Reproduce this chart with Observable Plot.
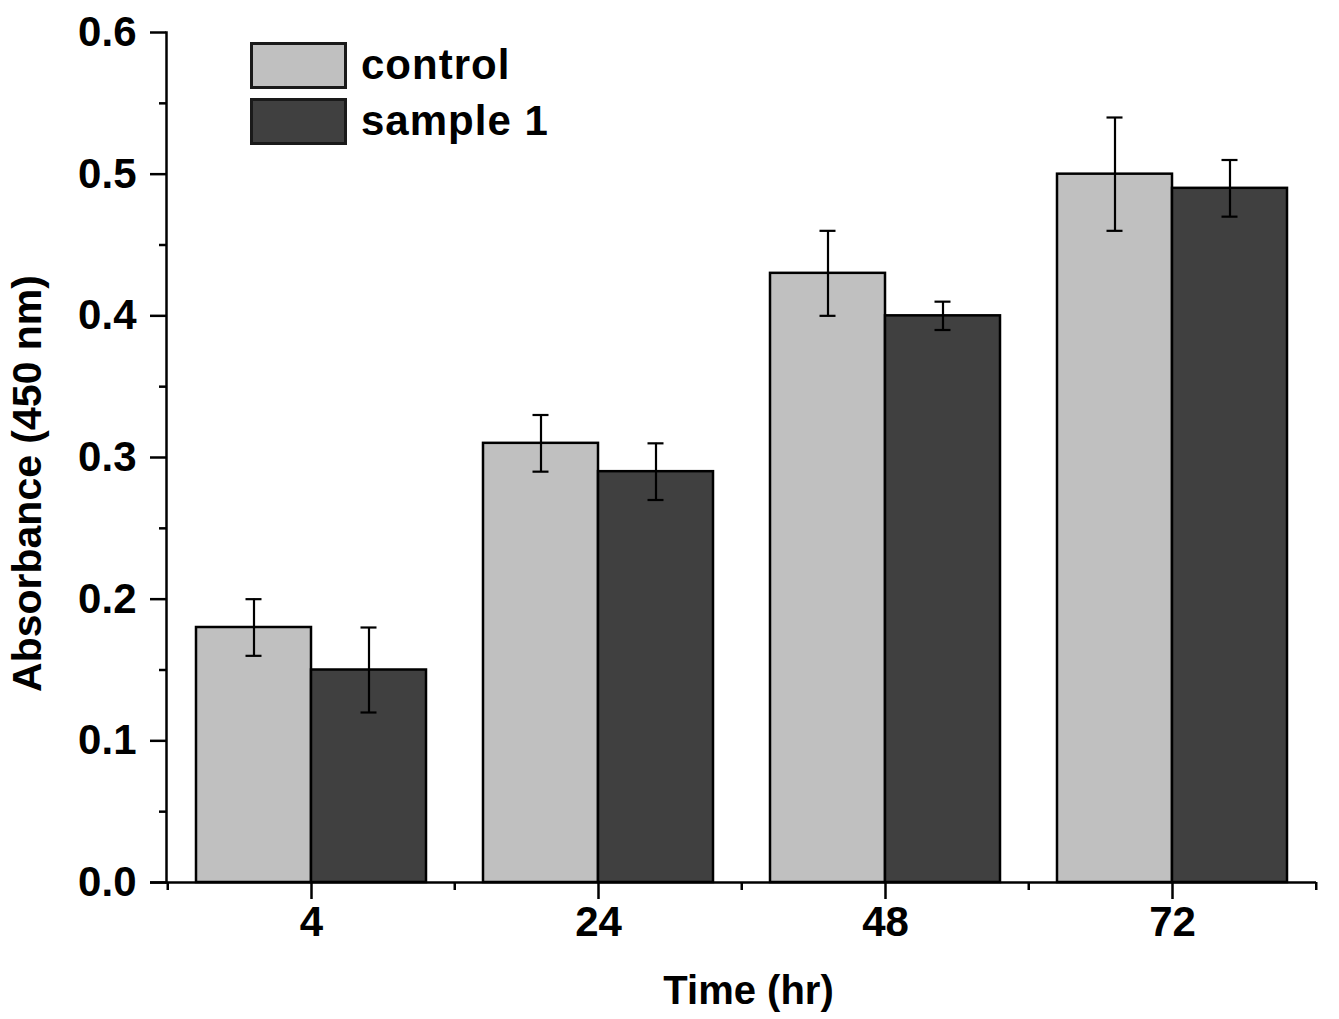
<!DOCTYPE html>
<html><head><meta charset="utf-8">
<script src="https://cdn.jsdelivr.net/npm/d3@7"></script>
<script src="https://cdn.jsdelivr.net/npm/@observablehq/plot@0.6"></script>
<style>
html,body{margin:0;padding:0;background:#fff;}
#wrap{position:relative;width:1339px;height:1019px;}
.legend{position:absolute;left:250px;top:37px;font:bold 42px "Liberation Sans",Arial,sans-serif;letter-spacing:1px;color:#000;}
.row{display:flex;align-items:center;height:56px;}
.sw{box-sizing:border-box;width:97px;height:47px;border:3px solid #1a1a1a;margin-right:14px;}
</style></head>
<body><div id="wrap"></div>
<script>
const times = ["4", "24", "48", "72"];
const seriesNames = ["control", "sample 1"];
const controlValues = [0.18, 0.31, 0.43, 0.50];
const controlErrors = [0.02, 0.02, 0.03, 0.04];
const sampleValues = [0.15, 0.29, 0.40, 0.49];
const sampleErrors = [0.03, 0.02, 0.01, 0.02];
const yTicks = [0, 0.1, 0.2, 0.3, 0.4, 0.5, 0.6];
const yMinorTicks = [0.05, 0.15, 0.25, 0.35, 0.45, 0.55];
const colors = ["#c0c0c0", "#404040"];

const ctrl = times.map((t, i) => ({time: t, value: controlValues[i], err: controlErrors[i]}));
const samp = times.map((t, i) => ({time: t, value: sampleValues[i], err: sampleErrors[i]}));

const W = 1339, H = 1019, mL = 166, mR = 23, mT = 32, mB = 137;
const step = (W - mL - mR) / times.length;
const bw = step * 0.8;
const cap = 8;
const font = '"Liberation Sans", Arial, sans-serif';

const chart = Plot.plot({
  width: W, height: H,
  marginLeft: mL, marginRight: mR, marginTop: mT, marginBottom: mB,
  style: {fontFamily: font, fontWeight: "bold", fontSize: "42px", color: "#000", background: "white", overflow: "visible"},
  x: {type: "band", domain: times, paddingInner: 0.2, paddingOuter: 0.1},
  y: {domain: [0, 0.6]},
  marks: [
    Plot.barY(ctrl, {x: "time", y: "value", fill: colors[0], stroke: "#000", strokeWidth: 2.5, insetRight: bw / 2}),
    Plot.barY(samp, {x: "time", y: "value", fill: colors[1], stroke: "#000", strokeWidth: 2.5, insetLeft: bw / 2}),
    Plot.ruleX(ctrl, {x: "time", y1: d => d.value - d.err, y2: d => d.value + d.err, dx: -bw / 4, strokeWidth: 2.2}),
    Plot.ruleX(samp, {x: "time", y1: d => d.value - d.err, y2: d => d.value + d.err, dx: bw / 4, strokeWidth: 2.2}),
    Plot.tickY(ctrl, {x: "time", y: d => d.value + d.err, insetLeft: bw / 4 - cap, insetRight: 3 * bw / 4 - cap, strokeWidth: 2.2}),
    Plot.tickY(ctrl, {x: "time", y: d => d.value - d.err, insetLeft: bw / 4 - cap, insetRight: 3 * bw / 4 - cap, strokeWidth: 2.2}),
    Plot.tickY(samp, {x: "time", y: d => d.value + d.err, insetLeft: 3 * bw / 4 - cap, insetRight: bw / 4 - cap, strokeWidth: 2.2}),
    Plot.tickY(samp, {x: "time", y: d => d.value - d.err, insetLeft: 3 * bw / 4 - cap, insetRight: bw / 4 - cap, strokeWidth: 2.2}),
    Plot.ruleY([0], {strokeWidth: 2.5, insetLeft: -16}),
    Plot.frame({anchor: "left", strokeWidth: 2.5}),
    Plot.ruleX(times, {x: d => d, y1: 0, y2: 0, insetBottom: -8, dx: -step / 2, strokeWidth: 2.5}),
    Plot.ruleX(times.slice(-1), {x: d => d, y1: 0, y2: 0, insetBottom: -8, dx: step / 2, strokeWidth: 2.5}),
    Plot.axisX({tickSize: 17, tickPadding: 7, label: null, fontSize: 42, strokeWidth: 2.5}),
    Plot.axisY(yTicks, {tickSize: 16, tickPadding: 14, tickFormat: d3.format(".1f"), label: null, fontSize: 42, strokeWidth: 2.5}),
    Plot.axisY(yMinorTicks, {tickSize: 7, text: null, label: null, strokeWidth: 2.5}),
    Plot.text(["Time (hr)"], {text: d => d, frameAnchor: "bottom", textAnchor: "middle", dx: 7, dy: 121, fontSize: 40, fontWeight: "bold"}),
    Plot.text(["Absorbance (450 nm)"], {text: d => d, frameAnchor: "left", textAnchor: "middle", rotate: -90, dx: -139, dy: 26, fontSize: 41, fontWeight: "bold"})
  ]
});

const wrap = document.getElementById("wrap");
wrap.appendChild(chart);
const legend = document.createElement("div");
legend.className = "legend";
seriesNames.forEach((name, i) => {
  const row = document.createElement("div");
  row.className = "row";
  const sw = document.createElement("div");
  sw.className = "sw";
  sw.style.background = colors[i];
  const label = document.createElement("span");
  label.textContent = name;
  row.appendChild(sw);
  row.appendChild(label);
  legend.appendChild(row);
});
wrap.appendChild(legend);
</script>
</body></html>
